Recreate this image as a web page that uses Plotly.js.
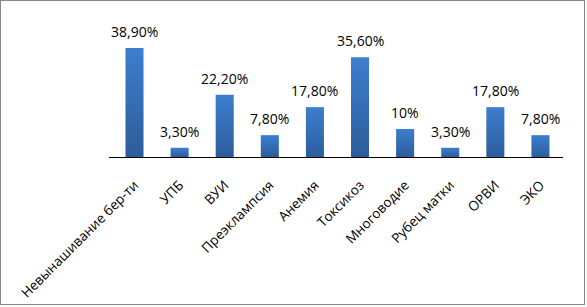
<!DOCTYPE html>
<html>
<head>
<meta charset="utf-8">
<script src="https://cdn.plot.ly/plotly-3.0.1.min.js"></script>
<style>
  html, body { margin: 0; padding: 0; background: #fff; }
  #wrap { position: absolute; left: 0; top: 0; width: 585px; height: 305px; box-sizing: border-box; border: 1px solid #878787; }
  #chart { width: 583px; height: 303px; }
</style>
</head>
<body>
<div id="wrap"><div id="chart"></div></div>
<script>
const categories = ["Невынашивание бер-ти", "УПБ", "ВУИ", "Преэклампсия", "Анемия", "Токсикоз", "Многоводие", "Рубец матки", "ОРВИ", "ЭКО"];
const values = [38.9, 3.3, 22.2, 7.8, 17.8, 35.6, 10, 3.3, 17.8, 7.8];
const valueLabels = ["38,90%", "3,30%", "22,20%", "7,80%", "17,80%", "35,60%", "10%", "3,30%", "17,80%", "7,80%"];

const font = "Open Sans, Liberation Sans, sans-serif";

const trace = {
  type: "bar",
  x: categories,
  y: values,
  marker: { color: "#3670bb", line: { width: 0 } },
  hoverinfo: "none"
};

const annotations = categories.map((c, i) => ({
  x: c, y: values[i], xref: "x", yref: "y",
  text: valueLabels[i], showarrow: false,
  yanchor: "bottom", yshift: 5,
  font: { family: font, size: 14, color: "#000" }
}));

const layout = {
  width: 583, height: 303,
  margin: { l: 108, r: 21, t: 44, b: 147, pad: 0 },
  paper_bgcolor: "#fff", plot_bgcolor: "#fff",
  showlegend: false,
  bargap: 0.6,
  xaxis: {
    type: "category",
    showline: true, linecolor: "#000", linewidth: 1,
    showgrid: false, zeroline: false,
    ticks: "", tickangle: -45,
    ticklabelstandoff: 14,
    tickfont: { family: font, size: 13.5, color: "#000" }
  },
  yaxis: {
    range: [0, 40], visible: false, showgrid: false, zeroline: false
  },
  annotations: annotations
};

Plotly.newPlot("chart", [trace], layout, { displayModeBar: false, staticPlot: true }).then(gd => {
  const svg = gd.querySelector("svg.main-svg");
  const ns = "http://www.w3.org/2000/svg";
  let defs = svg.querySelector("defs");
  if (!defs) { defs = document.createElementNS(ns, "defs"); svg.insertBefore(defs, svg.firstChild); }
  const g = document.createElementNS(ns, "linearGradient");
  g.setAttribute("id", "barGrad");
  g.setAttribute("x1", "0"); g.setAttribute("y1", "0");
  g.setAttribute("x2", "0"); g.setAttribute("y2", "1");
  const s1 = document.createElementNS(ns, "stop");
  s1.setAttribute("offset", "0"); s1.setAttribute("stop-color", "#3d7ecf");
  const s2 = document.createElementNS(ns, "stop");
  s2.setAttribute("offset", "1"); s2.setAttribute("stop-color", "#2c5d9b");
  g.appendChild(s1); g.appendChild(s2);
  defs.appendChild(g);
  gd.querySelectorAll("g.trace.bars path").forEach(p => { p.style.fill = "url(#barGrad)"; });
});
</script>
</body>
</html>
